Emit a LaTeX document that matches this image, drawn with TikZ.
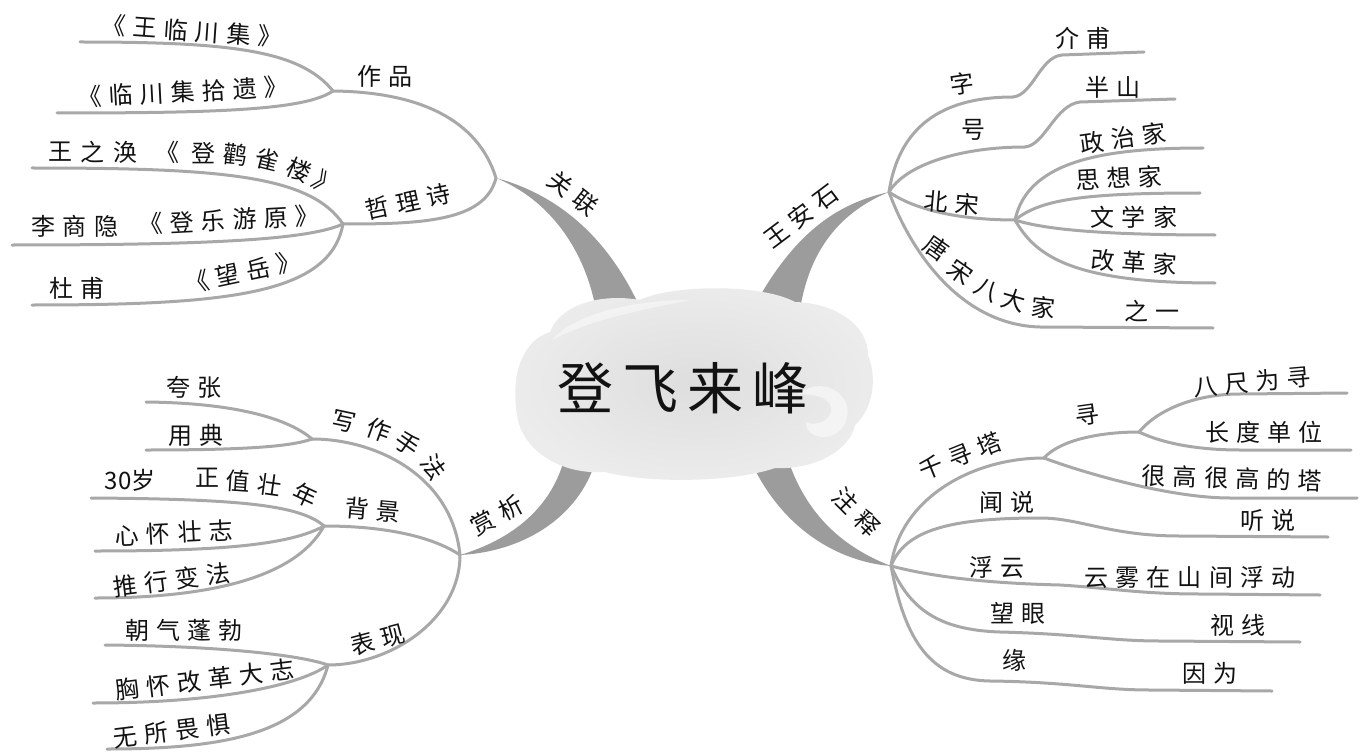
\documentclass[tikz,border=0pt]{standalone}
\usepackage{fontspec}
\newfontfamily\cjk[LetterSpace=30]{Noto Sans CJK SC}
\newfontfamily\cjkp{Noto Sans CJK SC}
\newfontfamily\cjkt[LetterSpace=16]{Noto Sans CJK SC}
\definecolor{lg}{RGB}{168,168,168}
\definecolor{tg}{RGB}{156,156,156}
\definecolor{txt}{RGB}{18,18,18}
\tikzset{
  br/.style={draw=lg, line width=3pt, line cap=round, line join=round},
  trunk/.style={fill=tg},
  lb/.style={font=\fontsize{24}{26}\selectfont\cjk, text=txt, inner sep=0pt},
  lbp/.style={font=\fontsize{24}{26}\selectfont\cjkp, text=txt, inner sep=0pt},
  ttl/.style={font=\fontsize{56}{60}\selectfont\cjkt, text=txt, inner sep=0pt},
}
\begin{document}
\begin{tikzpicture}[x=1pt,y=-1pt]
\fill[white] (0,0) rectangle (1362,754);
\useasboundingbox (0,0) rectangle (1362,754);

% ---------- junctions and free ends ----------
\coordinate (gl) at (496,178);
\coordinate (zp) at (333,91);
\coordinate (ewl) at (80,42);
\coordinate (elc) at (57,113);
\coordinate (zl) at (343,224);
\coordinate (ewz) at (32,168);
\coordinate (els) at (12,245);
\coordinate (edf) at (32,305);

\coordinate (ws) at (889,192);
\coordinate (zi) at (1013,97);
\coordinate (ejf) at (1144,52);
\coordinate (hao) at (1025,147);
\coordinate (ebs) at (1175,99);
\coordinate (bs) at (1015,220);
\coordinate (ezz) at (1203,148);
\coordinate (esx) at (1200,193);
\coordinate (ewx) at (1215,235);
\coordinate (egg) at (1215,283);
\coordinate (etb) at (1213,328);

\coordinate (sx) at (460,555);
\coordinate (xz) at (312,439);
\coordinate (ekz) at (146,402);
\coordinate (eyd) at (146,450);
\coordinate (bj) at (324,526);
\coordinate (e30) at (91,498);
\coordinate (exh) at (95,551);
\coordinate (etx) at (95,598);
\coordinate (bx) at (328,665);
\coordinate (ezq) at (105,645);
\coordinate (exg) at (93,703);
\coordinate (ewj) at (107,749);

\coordinate (zs) at (891,566);
\coordinate (qx) at (1044,458);
\coordinate (xun) at (1139,432);
\coordinate (ebc) at (1347,393);
\coordinate (ecd) at (1351,450);
\coordinate (ehg) at (1357,498);
\coordinate (ets) at (1328,537);
\coordinate (eyw) at (1320,595);
\coordinate (esj) at (1300,642);
\coordinate (eyy) at (1272,691);

% ---------- trunks ----------
\fill[trunk] (gl) .. controls (560,195) and (610,240) .. (641,310) -- (596,310) .. controls (585,250) and (550,200) .. (gl) -- cycle;
\fill[trunk] (752,310) .. controls (790,240) and (830,205) .. (ws) .. controls (845,210) and (810,245) .. (800,310) -- cycle;
\fill[trunk] (sx) .. controls (510,540) and (550,510) .. (564,460) -- (596,460) .. controls (578,520) and (520,552) .. (sx) -- cycle;
\fill[trunk] (785,450) .. controls (805,520) and (850,550) .. (zs) .. controls (840,562) and (780,530) .. (748,455) -- cycle;

% ---------- branches top-left ----------
\draw[br] (gl) .. controls +(-18,-58) and +(87,1) .. (zp);
\draw[br] (zp) .. controls +(-33,-41) and +(150,0) .. (ewl);
\draw[br] (zp) .. controls +(-28,19) and +(163,0) .. (elc);
\draw[br] (gl) .. controls +(-11,44) and +(77,0) .. (zl);
\draw[br] (zl) .. controls +(-33,-49) and +(188,0) .. (ewz);
\draw[br] (zl) .. controls +(-33,15) and +(208,0) .. (els);
\draw[br] (zl) .. controls +(-13,70) and +(198,0) .. (edf);

% ---------- branches top-right ----------
\draw[br] (ws) .. controls +(11,-72) and +(-63,0) .. (zi);
\draw[br] (zi) .. controls +(20,-2) and +(-22,2) .. (1062,55) -- (ejf);
\draw[br] (ws) .. controls +(16,-27) and +(-65,0) .. (hao);
\draw[br] (hao) .. controls +(20,-2) and +(-25,3) .. (1080,102) -- (ebs);
\draw[br] (ws) .. controls +(26,18) and +(-55,0) .. (bs);
\draw[br] (bs) .. controls +(13,-60) and +(-97,0) .. (ezz);
\draw[br] (bs) .. controls +(25,-20) and +(-120,0) .. (esx);
\draw[br] (bs) .. controls +(25,8) and +(-125,0) .. (ewx);
\draw[br] (bs) .. controls +(20,35) and +(-145,0) .. (egg);
\draw[br] (ws) .. controls +(21,58) and +(-80,-2) .. (1040,327) -- (etb);

% ---------- branches bottom-left ----------
\draw[br] (sx) .. controls +(-8,-80) and +(63,0) .. (xz);
\draw[br] (xz) .. controls +(-22,-19) and +(94,1) .. (ekz);
\draw[br] (xz) .. controls +(-22,8) and +(94,0) .. (eyd);
\draw[br] (sx) .. controls +(-30,-20) and +(56,0) .. (bj);
\draw[br] (bj) .. controls +(-24,-21) and +(149,1) .. (e30);
\draw[br] (bj) .. controls +(-34,19) and +(125,0) .. (exh);
\draw[br] (bj) .. controls +(-24,44) and +(135,0) .. (etx);
\draw[br] (sx) .. controls +(0,65) and +(62,0) .. (bx);
\draw[br] (bx) .. controls +(-28,-10) and +(115,1) .. (ezq);
\draw[br] (bx) .. controls +(-28,20) and +(127,0) .. (exg);
\draw[br] (bx) .. controls +(-18,70) and +(113,0) .. (ewj);

% ---------- branches bottom-right ----------
\draw[br] (zs) .. controls +(9,-66) and +(-74,0) .. (qx);
\draw[br] (qx) .. controls +(16,-18) and +(-39,0) .. (xun);
\draw[br] (xun) .. controls +(21,-25) and +(-40,0) .. (1240,394) -- (ebc);
\draw[br] (xun) .. controls +(25,12) and +(-40,0) .. (1240,450) -- (ecd);
\draw[br] (qx) .. controls +(40,15) and +(-60,0) .. (1230,498) -- (ehg);
\draw[br] (zs) .. controls +(14,-36) and +(-90,0) .. (1040,518) .. controls +(40,0) and +(-70,0) .. (1180,536) -- (ets);
\draw[br] (zs) .. controls +(39,10) and +(-80,-2) .. (1060,585) .. controls +(50,3) and +(-60,0) .. (1200,594) -- (eyw);
\draw[br] (zs) .. controls +(19,44) and +(-60,-2) .. (1000,632) .. controls +(80,2) and +(-50,0) .. (1160,641) -- (esj);
\draw[br] (zs) .. controls +(14,74) and +(-60,-1) .. (990,681) .. controls +(80,1) and +(-50,0) .. (1150,690) -- (eyy);

% ---------- cloud ----------
\path[inner color=gray!26, outer color=gray!15]
  (517,415) .. controls (510,370) and (525,340) .. (550,332)
  .. controls (560,305) and (600,293) .. (640,300)
  .. controls (670,285) and (760,283) .. (795,302)
  .. controls (835,303) and (868,325) .. (868,355)
  .. controls (878,380) and (872,410) .. (855,425)
  .. controls (850,450) and (815,470) .. (775,468)
  .. controls (735,482) and (650,484) .. (605,472)
  .. controls (560,475) and (522,450) .. (517,415) -- cycle;
\fill[white, opacity=0.45] (552,340) .. controls (575,312) and (640,300) .. (690,300)
  .. controls (640,310) and (590,320) .. (552,340) -- cycle;
\fill[white, opacity=0.5] (798,394) .. controls (825,372) and (862,400) .. (842,428)
  .. controls (830,443) and (805,438) .. (806,422)
  .. controls (818,428) and (836,418) .. (830,404)
  .. controls (822,394) and (810,395) .. (798,394) -- cycle;
\node[ttl] (title) at (683,388) {登飞来峰};

% ---------- labels top-left ----------
\node[lb, rotate=-38] (tgl) at (573,193) {关联};
\node[lb, rotate=-4] (twl) at (192,31) {《王临川集》};
\node[lb] (tzp) at (385,76) {作品};
\node[lb, rotate=3] (tlc) at (183,92) {《临川集拾遗》};
\node[lb] (w1) at (60,152) {王};
\node[lb] (w2) at (92,152) {之};
\node[lb] (w3) at (125,152) {涣};
\node[lb] (w4) at (167,152) {《};
\node[lb] (w5) at (203,153) {登};
\node[lb, rotate=-6] (w6) at (235,155) {鹳};
\node[lb, rotate=-14] (w7) at (267,160) {雀};
\node[lb, rotate=-24] (w8) at (299,170) {楼};
\node[lb, rotate=-35] (w9) at (326,184) {》};
\node[lb, rotate=12] (tzl) at (408,202) {哲理诗};
\node[lb] (tls) at (75,226) {李商隐};
\node[lb, rotate=3] (tdy) at (229,220) {《登乐游原》};
\node[lb] (tdf) at (77,288) {杜甫};
\node[lb, rotate=12] (twy) at (243,272) {《望岳》};

% ---------- labels top-right ----------
\node[lb, rotate=37] (tws) at (801,216) {王安石};
\node[lb] (tjf) at (1083,38) {介甫};
\node[lb, rotate=8] (tzi) at (962,84) {字};
\node[lb] (tbsn) at (1113,87) {半山};
\node[lb] (thao) at (973,130) {号};
\node[lb, rotate=8] (tzz) at (1123,138) {政治家};
\node[lb, rotate=3] (tsx) at (1119,178) {思想家};
\node[lb, rotate=-5] (tbs) at (952,203) {北宋};
\node[lb] (twx) at (1134,217) {文学家};
\node[lb, rotate=-4] (tgg) at (1134,262) {改革家};
\node[lb, rotate=-35] (tb1) at (937,248) {唐};
\node[lb, rotate=-35] (tb2) at (961,272) {宋};
\node[lb, rotate=-28] (tb3) at (987,290) {八};
\node[lb, rotate=-16] (tb4) at (1014,300) {大};
\node[lb, rotate=-6] (tb5) at (1043,308) {家};
\node[lb] (tzy) at (1152,311) {之一};

% ---------- labels bottom-left ----------
\node[lb, rotate=28] (tsxx) at (497,515) {赏析};
\node[lb] (tkz) at (194,387) {夸张};
\node[lb] (tyd) at (196,435) {用典};
\node[lb, rotate=-12] (x1) at (344,422) {写};
\node[lb, rotate=-20] (x2) at (379,430) {作};
\node[lb, rotate=-35] (x3) at (408,444) {手};
\node[lb, rotate=-55] (x4) at (434,467) {法};
\node[lbp] (t30) at (130,480) {30岁};
\node[lb] (z1) at (207,478) {正};
\node[lb, rotate=-4] (z2) at (238,481) {值};
\node[lb, rotate=-8] (z3) at (270,485) {壮};
\node[lb, rotate=-25] (z4) at (305,495) {年};
\node[lb, rotate=-5] (tbj) at (373,510) {背景};
\node[lb, rotate=3] (txh) at (174,533) {心怀壮志};
\node[lb, rotate=7] (ttx) at (172,580) {推行变法};
\node[lb, rotate=15] (tbx) at (378,640) {表现};
\node[lb] (tzq) at (184,630) {朝气蓬勃};
\node[lb, rotate=7] (txg) at (205,680) {胸怀改革大志};
\node[lb, rotate=7] (twj) at (172,731) {无所畏惧};

% ---------- labels bottom-right ----------
\node[lb, rotate=-45] (tzs) at (856,512) {注释};
\node[lb, rotate=22] (tqx) at (960,456) {千寻塔};
\node[lb, rotate=8] (txun) at (1087,415) {寻};
\node[lb, rotate=5] (tbc) at (1252,382) {八尺为寻};
\node[lb] (tcd) at (1264,432) {长度单位};
\node[lb, rotate=-2] (thg) at (1232,478) {很高很高的塔};
\node[lb] (twsh) at (1007,502) {闻说};
\node[lb] (tts) at (1268,520) {听说};
\node[lb] (tfy) at (997,567) {浮云};
\node[lb] (tyw) at (1190,577) {云雾在山间浮动};
\node[lb] (twy2) at (1018,613) {望眼};
\node[lb] (tsj) at (1238,625) {视线};
\node[lb] (tyuan) at (1014,660) {缘};
\node[lb] (tyw2) at (1210,673) {因为};
\end{tikzpicture}
\end{document}
